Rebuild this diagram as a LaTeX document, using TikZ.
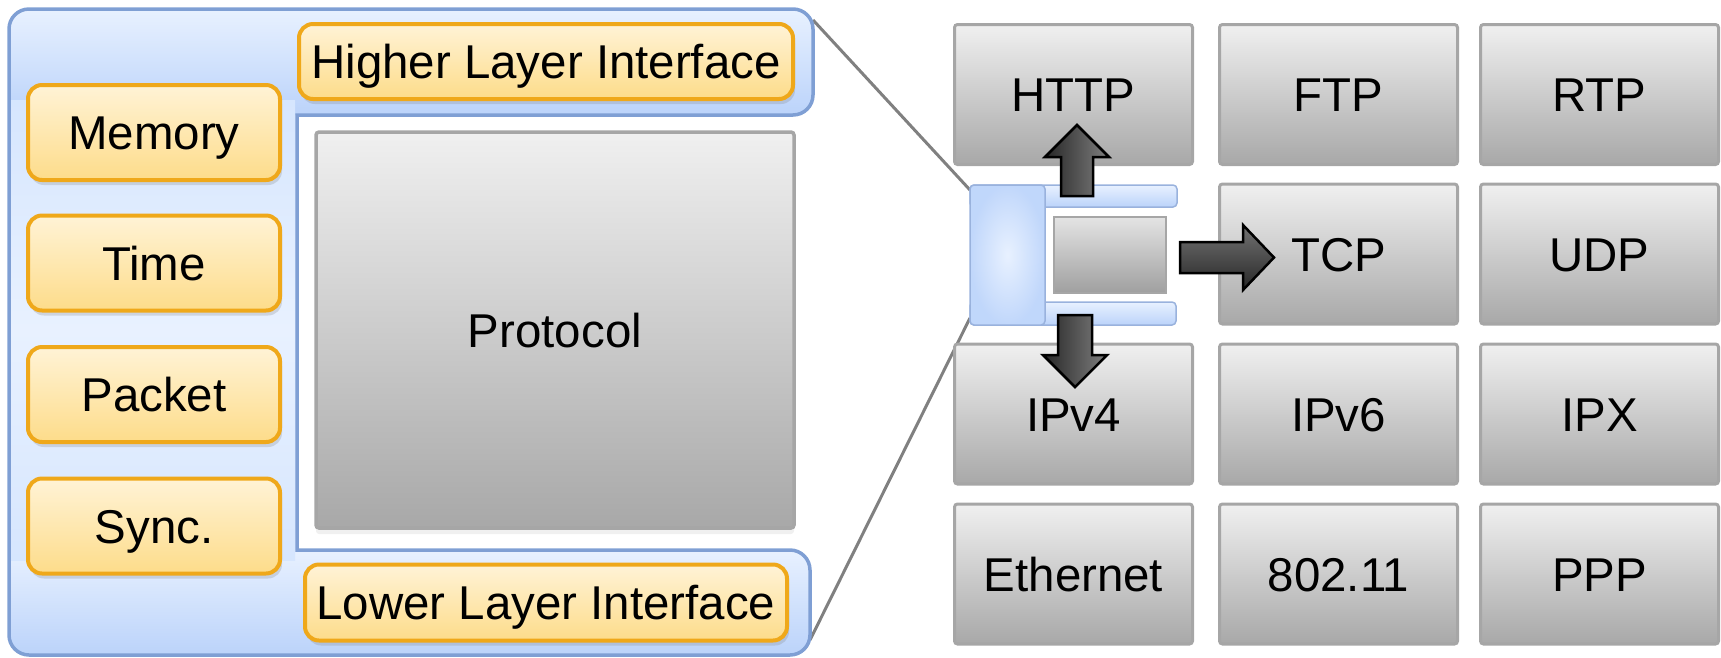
\documentclass[tikz,border=0pt]{standalone}
\usepackage{fontspec}
\setmainfont{Liberation Sans}
\usepackage{tikz}
\usetikzlibrary{positioning}
\usetikzlibrary{shadows}
\definecolor{orangeLine}{RGB}{239,168,26}
\definecolor{orangeTop}{RGB}{255,243,214}
\definecolor{orangeBot}{RGB}{253,220,138}
\definecolor{blueLine}{RGB}{127,159,212}
\definecolor{blueLight}{RGB}{232,241,255}
\definecolor{blueMid}{RGB}{214,230,254}
\definecolor{blueDark}{RGB}{187,211,250}
\definecolor{grayLine}{RGB}{166,166,166}
\definecolor{grayTop}{RGB}{240,240,240}
\definecolor{grayBot}{RGB}{168,168,168}
\tikzset{
    moduleBox/.style={
		draw=orangeLine, line width=0.4mm, rounded corners=1.4mm,
		top color=orangeTop, bottom color=orangeBot, inner sep=0pt,
		drop shadow={shadow xshift=0.2mm, shadow yshift=-0.5mm, opacity=0.25},
		font=\fontsize{13.5}{16}\selectfont, text height=9.7pt, text depth=0pt
	}
}
\tikzset{
    layerBox/.style={
		draw=grayLine, line width=0.3mm, rounded corners=0.3mm,
		top color=grayTop, bottom color=grayBot, inner sep=0pt,
		minimum width=23.8mm, minimum height=14mm,
		font=\fontsize{13.5}{16}\selectfont, text height=9.7pt, text depth=0pt
	}
}
\tikzset{
    blockArrow/.style={draw=black, line width=0.25mm, line join=miter}
}
\tikzset{
    zoomLine/.style={draw=black!50, line width=0.3mm}
}

\begin{document}
\begin{tikzpicture}[x=0.1mm, y=-0.1mm]
			\useasboundingbox (0,0) rectangle (1721,657);
			% zoom lines
			\coordinate (panelNE) at (813,20);
			\coordinate (panelSE) at (810,640);
			\coordinate (miniNW) at (970,190);
			\coordinate (miniSW) at (970,318);
			\draw[zoomLine] (panelNE) -- (miniNW);
			\draw[zoomLine] (panelSE) -- (miniSW);
			% framework panel
			\fill[blueMid] (9,60) [rounded corners=2mm] -- (9,9) -- (813,9) -- (813,115) [sharp corners] -- (297,115) -- (297,550) [rounded corners=2mm] -- (810,550) -- (810,655) -- (9,655) -- cycle;
			\shade[top color=blueLight, bottom color=blueDark, rounded corners=2mm] (9,9) rectangle (813,115);
			\shade[top color=blueLight, bottom color=blueDark, rounded corners=2mm] (9,550) rectangle (810,655);
			\shade[top color=blueMid, bottom color=blueMid, middle color=blueLight] (11,100) rectangle (295,560);
			\draw[blueLine, line width=0.35mm] (9,60) [rounded corners=2mm] -- (9,9) -- (813,9) -- (813,115) [sharp corners] -- (297,115) -- (297,550) [rounded corners=2mm] -- (810,550) -- (810,655) -- (9,655) -- cycle;
			% modules
			\node[moduleBox, minimum width=49.4mm, minimum height=7.5mm] (higher) at (546,61.5) {Higher Layer Interface};
			\node[moduleBox, minimum width=48.2mm, minimum height=7.6mm] (lower) at (546,602.5) {Lower Layer Interface};
			\node[moduleBox, minimum width=25.2mm, minimum height=9.5mm] (memory) at (154,132.5) {Memory};
			\node[moduleBox, minimum width=25.2mm, minimum height=9.5mm] (time) at (154,263) {Time};
			\node[moduleBox, minimum width=25.2mm, minimum height=9.5mm] (packet) at (154,394.5) {Packet};
			\node[moduleBox, minimum width=25.2mm, minimum height=9.5mm] (sync) at (154,526) {Sync.};
			\node[layerBox, minimum width=47.8mm, minimum height=39.6mm, line width=0.35mm,
				drop shadow={shadow xshift=0mm, shadow yshift=-0.6mm, opacity=0.12}] (protocol) at (555,330) {Protocol};
			% protocol stack
			\node[layerBox] (http) at (1073.5,94.5) {HTTP};
			\node[layerBox] (ftp) at (1338.5,94.5) {FTP};
			\node[layerBox] (rtp) at (1599.5,94.5) {RTP};
			\node[layerBox] (tcp) at (1338.5,254) {TCP};
			\node[layerBox] (udp) at (1599.5,254) {UDP};
			\node[layerBox] (ipv4) at (1073.5,414) {IPv4};
			\node[layerBox] (ipv6) at (1338.5,414) {IPv6};
			\node[layerBox] (ipx) at (1599.5,414) {IPX};
			\node[layerBox] (ethernet) at (1073.5,574) {Ethernet};
			\node[layerBox] (wifi) at (1338.5,574) {802.11};
			\node[layerBox] (ppp) at (1599.5,574) {PPP};
			% small framework icon
			\shade[top color=blueLight, bottom color=blueDark, draw=blueLine!80, line width=0.15mm, rounded corners=0.4mm] (970,185) rectangle (1177,207);
			\shade[top color=blueLight, bottom color=blueDark, draw=blueLine!80, line width=0.15mm, rounded corners=0.4mm] (970,302) rectangle (1176,325);
			\shade[inner color=blueLight, outer color=blueDark!80!blueMid, draw=blueLine!80, line width=0.15mm, rounded corners=0.4mm] (970,185) rectangle (1045,325);
			\node[layerBox, minimum width=11.2mm, minimum height=7.6mm, line width=0.15mm,
				rounded corners=0pt, top color=grayTop!95!black, bottom color=grayBot!110] (miniProto) at (1110,255) {};
			% arrows
			\shade[blockArrow, left color=black!85, right color=black!50] (1061,196) -- (1061,157) -- (1045,157) -- (1077,125) -- (1109,157) -- (1093,157) -- (1093,196) -- cycle;
			\shade[blockArrow, left color=black!85, right color=black!50] (1058,315) -- (1092,315) -- (1092,355) -- (1107,355) -- (1075,387) -- (1043,355) -- (1058,355) -- cycle;
			\shade[blockArrow, top color=black!55, bottom color=black!85] (1180,242) -- (1243,242) -- (1243,225) -- (1274,257.5) -- (1243,290) -- (1243,273) -- (1180,273) -- cycle;
		\end{tikzpicture}
\end{document}
